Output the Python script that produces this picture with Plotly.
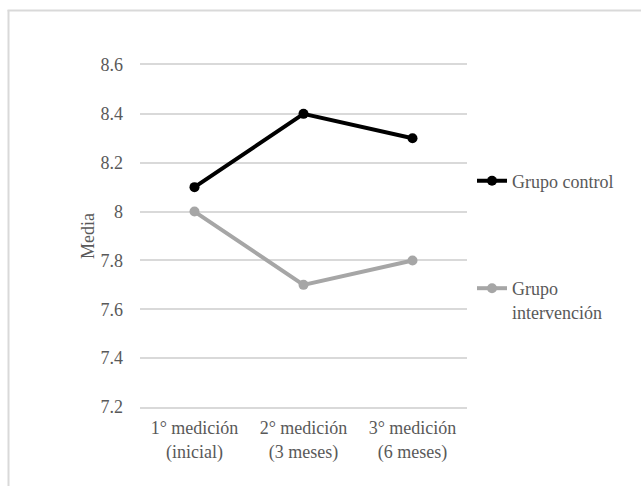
import plotly.graph_objects as go

# Mediciones y medias por grupo
categorias = ["1° medición<br>(inicial)", "2° medición<br>(3 meses)", "3° medición<br>(6 meses)"]
grupo_control = [8.1, 8.4, 8.3]
grupo_intervencion = [8.0, 7.7, 7.8]
ticks_y = [7.2, 7.4, 7.6, 7.8, 8.0, 8.2, 8.4, 8.6]
textos_y = ["7.2", "7.4", "7.6", "7.8", "8", "8.2", "8.4", "8.6"]

W, H = 641, 486
ML, MR, MT, MB = 140, 174, 65, 79
PW, PH = W - ML - MR, H - MT - MB

FONT = "Liberation Serif, serif"
GRIS_TXT = "#595959"
GRIS_LINEA = "#d9d9d9"

def px_x(px):
    return (px - ML) / PW

def px_y(py):
    return (H - MB - py) / PH

fig = go.Figure()
fig.add_trace(go.Scatter(
    x=categorias, y=grupo_control, name="Grupo control",
    mode="lines+markers",
    line=dict(color="#000000", width=4),
    marker=dict(color="#000000", size=10),
    legend="legend",
))
fig.add_trace(go.Scatter(
    x=categorias, y=grupo_intervencion, name="Grupo<br>intervención",
    mode="lines+markers",
    line=dict(color="#a6a6a6", width=4),
    marker=dict(color="#a6a6a6", size=10),
    legend="legend2",
))

leg_common = dict(
    font=dict(family=FONT, size=18, color=GRIS_TXT),
    bgcolor="rgba(0,0,0,0)", borderwidth=0,
    xref="paper", yref="paper", xanchor="left", valign="top",
)

# marco del gráfico
shapes = [
    dict(type="line", xref="paper", yref="paper",
         x0=px_x(8.5), x1=px_x(8.5), y0=px_y(10), y1=px_y(500),
         line=dict(color=GRIS_LINEA, width=2)),
    dict(type="line", xref="paper", yref="paper",
         x0=px_x(7.5), x1=px_x(660), y0=px_y(10.5), y1=px_y(10.5),
         line=dict(color=GRIS_LINEA, width=2)),
]

fig.update_layout(
    width=W, height=H,
    margin=dict(l=ML, r=MR, t=MT, b=MB, pad=0),
    paper_bgcolor="white", plot_bgcolor="white",
    font=dict(family=FONT, size=18, color=GRIS_TXT),
    showlegend=True,
    legend=dict(x=px_x(472), y=px_y(181), yanchor="middle", **leg_common),
    legend2=dict(x=px_x(472), y=px_y(300), yanchor="middle", **leg_common),
    xaxis=dict(
        type="category", range=[-0.5, 2.5],
        showgrid=False, zeroline=False,
        showline=True, mirror=True, linecolor=GRIS_LINEA, linewidth=1.5,
        ticks="", tickfont=dict(family=FONT, size=18, color=GRIS_TXT),
        ticklabelstandoff=4,
    ),
    yaxis=dict(
        range=[7.2, 8.6], tickvals=ticks_y, ticktext=textos_y,
        showgrid=True, gridcolor=GRIS_LINEA, gridwidth=1.5,
        zeroline=False, showline=False, ticks="",
        ticklabelstandoff=16,
        tickfont=dict(family=FONT, size=18, color=GRIS_TXT),
        title=dict(text="Media", standoff=1,
                   font=dict(family=FONT, size=18, color=GRIS_TXT)),
    ),
    shapes=shapes,
)

fig.write_html("out.html")
